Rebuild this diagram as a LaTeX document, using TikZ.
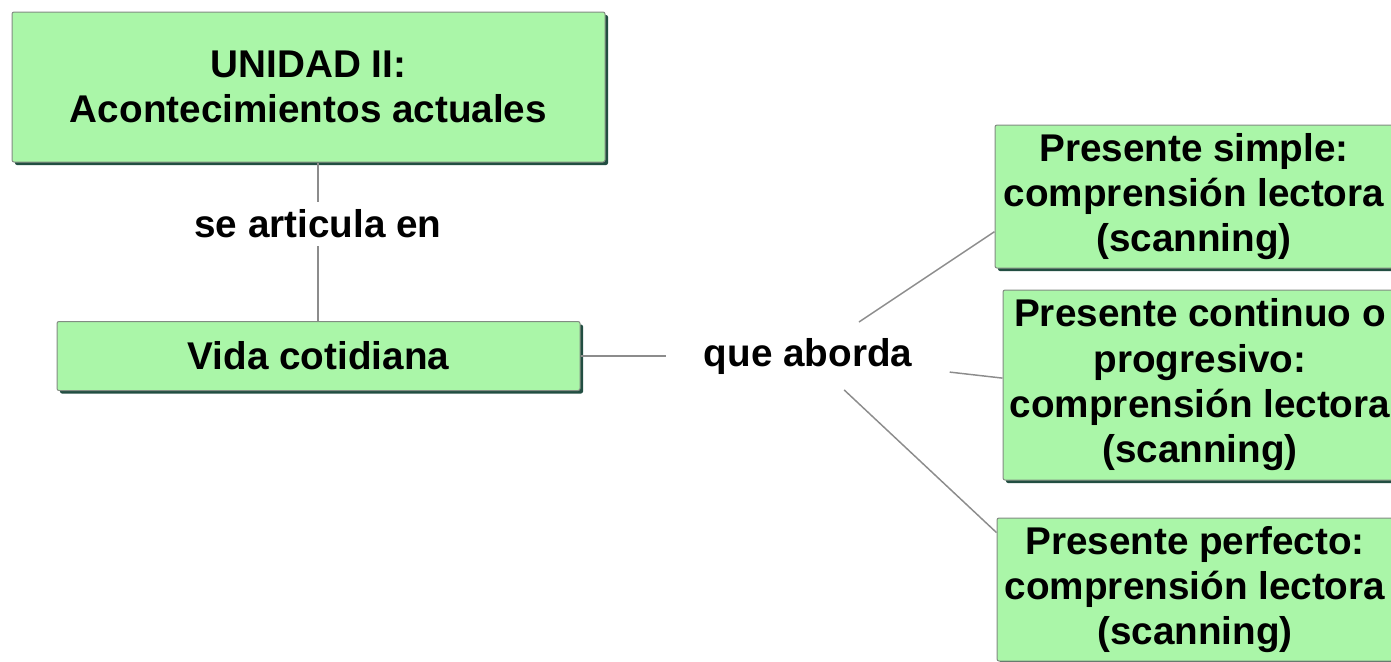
\documentclass[tikz,border=0pt]{standalone}
\usepackage{fontspec}
\setmainfont{Liberation Sans}
\usetikzlibrary{shadows}

\definecolor{verdeconcepto}{RGB}{170,246,168}
\definecolor{sombraconcepto}{RGB}{34,78,66}
\definecolor{bordeconcepto}{RGB}{130,140,130}
\definecolor{grislinea}{RGB}{140,140,140}

\tikzset{every picture/.style={line width=0.75pt}}
\tikzset{
	concepto/.style={draw=bordeconcepto, fill=verdeconcepto, rounded corners=1.5pt, align=center, inner sep=0pt,
		font=\bfseries\fontsize{29}{34}\selectfont,
		drop shadow={shadow xshift=2.25pt, shadow yshift=-2.25pt, fill=sombraconcepto, opacity=1}},
	enlace/.style={align=center, font=\bfseries\fontsize{29}{34}\selectfont},
	linea/.style={draw=grislinea, line width=1.1pt}
}

\begin{document}
\begin{tikzpicture}[x=0.75pt,y=0.75pt,yscale=-1,xscale=1]
		\useasboundingbox (0,0) rectangle (1391,661);
		
		%Shape: Rectangle [id:unidad] 
		\draw (308.5,87) node [concepto, minimum width=444.75pt, minimum height=112.5pt] (unidad) {UNIDAD II:\\Acontecimientos actuales};
		%Shape: Rectangle [id:vida] 
		\draw (318.5,356) node [concepto, minimum width=392.25pt, minimum height=51.75pt] (vida) {Vida cotidiana};
		%Shape: Rectangle [id:simple] 
		\draw (1194,196.5) node [concepto, minimum width=298.5pt, minimum height=107.25pt] (simple) {Presente simple:\\comprensión lectora\\(scanning)};
		%Shape: Rectangle [id:continuo] 
		\draw (1200,385) node [concepto, minimum width=295.5pt, minimum height=142.5pt] (continuo) {Presente continuo o\\progresivo:\\comprensión lectora\\(scanning)};
		%Shape: Rectangle [id:perfecto] 
		\draw (1195,589.5) node [concepto, minimum width=297pt, minimum height=107.25pt] (perfecto) {Presente perfecto:\\comprensión lectora\\(scanning)};
		
		\draw (318,224) node [enlace, inner xsep=0pt, inner ysep=5.6pt] (articula) {se articula en};
		\draw (808,356) node [enlace, inner xsep=27.75pt, inner ysep=11.6pt] (aborda) {que aborda};
		
		\draw [linea] (articula) -- (articula |- unidad.south) ;
		\draw [linea] (articula) -- (articula |- vida.north) ;
		\draw [linea] (vida) -- (aborda) ;
		\draw [linea] (aborda) -- (simple.190) ;
		\draw [linea] (aborda) -- (continuo.178) ;
		\draw [linea] (aborda) -- (perfecto.164) ;
		
	\end{tikzpicture}
\end{document}
